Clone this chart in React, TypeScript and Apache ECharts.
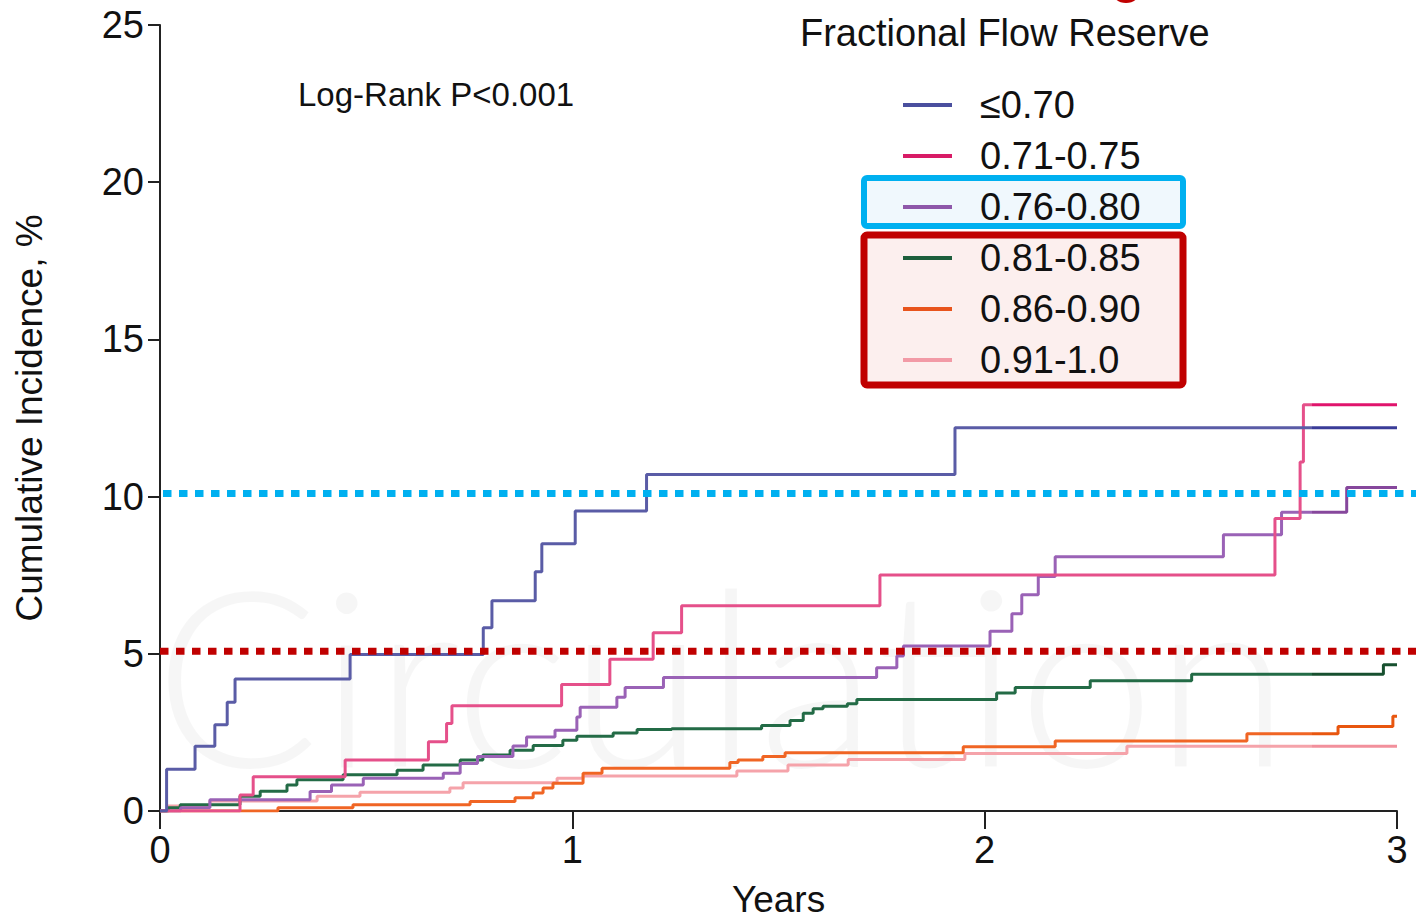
import React, { useEffect, useRef } from "react";
import * as echarts from "echarts";

const FONT = "'Liberation Sans', Arial, Helvetica, sans-serif";

const seriesNames = ["≤0.70", "0.71-0.75", "0.76-0.80", "0.81-0.85", "0.86-0.90", "0.91-1.0"];
const seriesColors = ["#5a5ca6", "#e5508a", "#9a62b6", "#236b46", "#f06524", "#f5a3aa"];
const tailColors = ["#3a3c98", "#e0146c", "#86479c", "#17502f", "#e8560f", "#f2909c"];
const legendColors = ["#4a4f9e", "#d81b66", "#8e58aa", "#1d5e3c", "#e8541c", "#f29aa6"];
const tailStartYears = 2.793;

// [years, cumulative incidence %]
const ffrLe070 = [
  [0, 0], [0.016, 1.33], [0.085, 2.06], [0.133, 2.74], [0.163, 3.46], [0.182, 4.2],
  [0.461, 4.98], [0.784, 5.83], [0.805, 6.69], [0.91, 7.61], [0.926, 8.5], [1.007, 9.54],
  [1.18, 10.7], [1.928, 12.19], [3.0, 12.19],
];
const ffr071to075 = [
  [0, 0], [0.194, 0.51], [0.226, 1.09], [0.449, 1.62], [0.651, 2.2], [0.695, 2.78],
  [0.708, 3.35], [0.974, 4.02], [1.091, 4.83], [1.196, 5.67], [1.265, 6.53], [1.746, 7.51],
  [2.704, 9.3], [2.765, 11.1], [2.773, 12.92], [3.0, 12.92],
];
const ffr076to080 = [
  [0, 0], [0.05, 0.1], [0.121, 0.36], [0.364, 0.62], [0.416, 0.83], [0.493, 1.04],
  [0.687, 1.2], [0.728, 1.51], [0.77, 1.73], [0.856, 2.07], [0.889, 2.35], [0.958, 2.57],
  [1.011, 2.99], [1.019, 3.3], [1.108, 3.62], [1.128, 3.93], [1.221, 4.25], [1.738, 4.56],
  [1.787, 4.93], [1.803, 5.25], [2.013, 5.72], [2.066, 6.27], [2.09, 6.88], [2.13, 7.46],
  [2.171, 8.09], [2.579, 8.79], [2.72, 9.5], [2.878, 10.29], [3.0, 10.29],
];
const ffr081to085 = [
  [0, 0], [0.02, 0.1], [0.049, 0.2], [0.194, 0.47], [0.243, 0.63], [0.308, 0.83],
  [0.332, 0.99], [0.444, 1.15], [0.575, 1.3], [0.638, 1.46], [0.728, 1.62], [0.783, 1.78],
  [0.849, 1.93], [0.905, 2.08], [0.977, 2.25], [1.011, 2.38], [1.099, 2.48], [1.157, 2.59],
  [1.241, 2.62], [1.459, 2.72], [1.528, 2.88], [1.56, 3.11], [1.584, 3.25], [1.608, 3.33],
  [1.667, 3.41], [1.69, 3.55], [2.029, 3.75], [2.074, 3.93], [2.256, 4.14], [2.502, 4.35],
  [2.967, 4.65], [3.0, 4.65],
];
const ffr086to090 = [
  [0, 0], [0.286, 0.1], [0.468, 0.2], [0.752, 0.3], [0.861, 0.42], [0.905, 0.57],
  [0.929, 0.73], [0.953, 0.88], [1.026, 1.2], [1.072, 1.36], [1.382, 1.54], [1.402, 1.62],
  [1.462, 1.73], [1.516, 1.85], [1.948, 2.04], [2.171, 2.23], [2.636, 2.46], [2.857, 2.69],
  [2.99, 3.01], [3.0, 3.01],
];
const ffr091to100 = [
  [0, 0], [0.02, 0.16], [0.121, 0.32], [0.381, 0.47], [0.485, 0.6], [0.703, 0.73],
  [0.735, 0.9], [0.963, 1.04], [1.026, 1.11], [1.399, 1.27], [1.523, 1.46], [1.669, 1.64],
  [1.952, 1.83], [2.345, 2.06], [3.0, 2.06],
];
const seriesData = [ffrLe070, ffr071to075, ffr076to080, ffr081to085, ffr086to090, ffr091to100];

const blueThreshold = 10.1;
const redThreshold = 5.08;
const xMax = 3;

export default function App() {
  const ref = useRef<HTMLDivElement>(null);
  useEffect(() => {
    const chart = echarts.init(ref.current!, null, { renderer: "svg" });
    const f = tailStartYears / xMax;
    const option: any = {
      animation: false,
      backgroundColor: "#ffffff",
      textStyle: { fontFamily: FONT },
      title: {
        text: "Fractional Flow Reserve",
        left: 800,
        top: 14,
        padding: 0,
        textStyle: { fontSize: 38, fontWeight: "normal", color: "#111", fontFamily: FONT },
      },
      legend: {
        orient: "vertical",
        left: 903,
        top: 85,
        padding: 0,
        itemWidth: 49,
        itemHeight: 4,
        icon: "rect",
        itemGap: 11,
        selectedMode: false,
        data: seriesNames.map((name, i) => ({ name, itemStyle: { color: legendColors[i] } })),
        textStyle: { fontSize: 38, lineHeight: 40, color: "#111", fontFamily: FONT, padding: [0, 0, 0, 23] },
      },
      grid: { left: 160, right: 19, top: 25, bottom: 105, containLabel: false },
      xAxis: {
        type: "value",
        min: 0,
        max: xMax,
        interval: 1,
        name: "Years",
        nameLocation: "middle",
        nameGap: 70,
        nameTextStyle: { fontSize: 37, color: "#111", fontFamily: FONT },
        axisLine: { show: true, lineStyle: { color: "#222", width: 2 } },
        axisTick: { show: true, inside: false, length: 18, lineStyle: { color: "#222", width: 2 } },
        axisLabel: { fontSize: 38, color: "#111", margin: 20, fontFamily: FONT },
        splitLine: { show: false },
      },
      yAxis: {
        type: "value",
        min: 0,
        max: 25,
        interval: 5,
        name: "Cumulative Incidence, %",
        nameLocation: "middle",
        nameGap: 112,
        nameTextStyle: { fontSize: 37, color: "#111", fontFamily: FONT },
        axisLine: { show: true, lineStyle: { color: "#222", width: 2 } },
        axisTick: { show: true, inside: false, length: 12, lineStyle: { color: "#222", width: 2 } },
        axisLabel: { fontSize: 38, color: "#111", margin: 16, fontFamily: FONT },
        splitLine: { show: false },
      },
      series: seriesNames.map((name, i) => ({
        name,
        type: "line",
        step: "end",
        data: seriesData[i],
        showSymbol: false,
        symbol: "none",
        itemStyle: { color: legendColors[i] },
        lineStyle: {
          width: 3,
          color: new echarts.graphic.LinearGradient(0, 0, 1, 0, [
            { offset: 0, color: seriesColors[i] },
            { offset: f, color: seriesColors[i] },
            { offset: f, color: tailColors[i] },
            { offset: 1, color: tailColors[i] },
          ]),
        },
        z: 3 + (5 - i),
      })),
    };
    chart.setOption(option);

    const x0 = chart.convertToPixel({ xAxisIndex: 0 }, 0) as number;
    const yBlue = chart.convertToPixel({ yAxisIndex: 0 }, blueThreshold) as number;
    const yRed = chart.convertToPixel({ yAxisIndex: 0 }, redThreshold) as number;

    chart.setOption({
      graphic: [
        {
          type: "text",
          id: "watermark",
          x: 154,
          y: 672,
          z: 0,
          silent: true,
          style: {
            text: "Circulation",
            fontSize: 245,
            fontFamily: "Lato, 'Open Sans', sans-serif",
            fontWeight: 300,
            fill: "rgba(0,0,0,0.035)",
            verticalAlign: "middle",
          },
        },
        {
          type: "ellipse",
          id: "topmark",
          z: 1,
          shape: { cx: 1126, cy: -5, rx: 12, ry: 8 },
          style: { fill: "#c00000" },
        },
        {
          type: "text",
          id: "logrank",
          x: 298,
          y: 94,
          z: 5,
          style: {
            text: "Log-Rank P<0.001",
            fontSize: 33,
            fontFamily: FONT,
            fill: "#111",
            verticalAlign: "middle",
          },
        },
        {
          type: "rect",
          id: "blueBox",
          z: 1,
          shape: { x: 864, y: 178, width: 319, height: 48, r: 3 },
          style: { fill: "#f0f8fd", stroke: "#00b0f0", lineWidth: 6 },
        },
        {
          type: "rect",
          id: "redBox",
          z: 1,
          shape: { x: 864, y: 235, width: 319, height: 150, r: 3 },
          style: { fill: "#fcefee", stroke: "#c00000", lineWidth: 7 },
        },
        {
          type: "line",
          id: "blueDots",
          z: 20,
          shape: { x1: x0 + 3, y1: yBlue, x2: 1416, y2: yBlue },
          style: { stroke: "#00b0f0", lineWidth: 7, lineDash: [8.5, 7.5], lineCap: "butt" },
        },
        {
          type: "line",
          id: "redDots",
          z: 20,
          shape: { x1: x0, y1: yRed, x2: 1416, y2: yRed },
          style: { stroke: "#c00000", lineWidth: 7, lineDash: [8.5, 7.5], lineCap: "butt" },
        },
      ],
    });
    return () => chart.dispose();
  }, []);
  return (
    <div
      ref={ref}
      style={{ position: "fixed", left: 0, top: 0, width: 1416, height: 923, background: "#fff" }}
    />
  );
}
